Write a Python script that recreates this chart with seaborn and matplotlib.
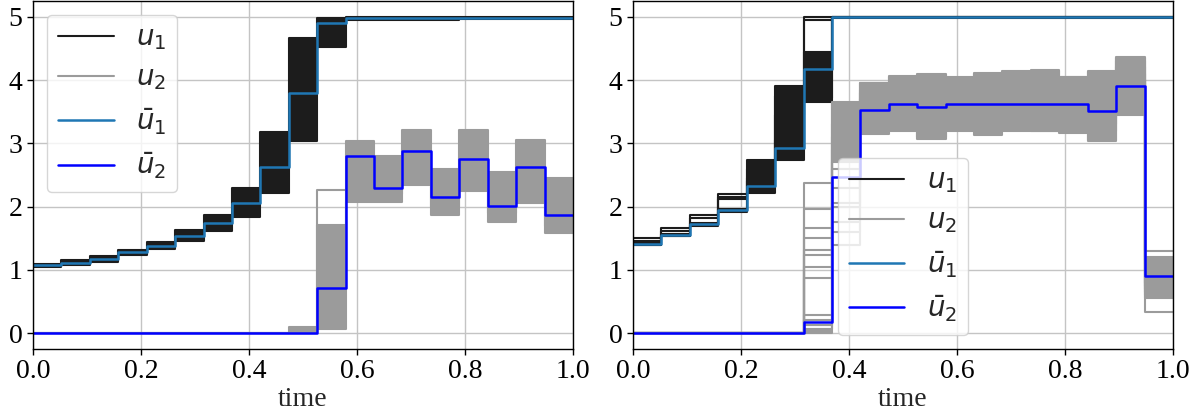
import numpy as np
import matplotlib
matplotlib.use("Agg")
import matplotlib.pyplot as plt
import seaborn as sns

# ---------------- data ----------------
n_steps = 19
t = np.arange(n_steps + 1) / n_steps          # time grid 0 .. 1
xticks = [0.0, 0.2, 0.4, 0.6, 0.8, 1.0]
yticks = [0, 1, 2, 3, 4, 5]
labels = [r"$u_1$", r"$u_2$", r"$\bar{u}_1$", r"$\bar{u}_2$"]

# left panel
u1L_mean = [1.07, 1.11, 1.18, 1.28, 1.38, 1.53, 1.74, 2.06, 2.63, 3.80, 4.90,
            4.98, 4.98, 4.98, 4.98, 4.98, 4.98, 4.98, 4.98]
u1L_lo = [1.05, 1.08, 1.13, 1.23, 1.33, 1.46, 1.61, 1.84, 2.22, 3.03, 4.53,
          4.95, 4.95, 4.95, 4.95, 4.96, 4.96, 4.96, 4.96]
u1L_hi = [1.10, 1.15, 1.22, 1.32, 1.44, 1.63, 1.87, 2.30, 3.18, 4.66, 4.98,
          5.00, 5.00, 5.00, 5.00, 5.00, 5.00, 5.00, 5.00]
u2L_mean = [0, 0, 0, 0, 0, 0, 0, 0, 0, 0, 0.72, 2.80, 2.29, 2.88, 2.15, 2.76,
            2.01, 2.63, 1.86]
u2L_lo = [0, 0, 0, 0, 0, 0, 0, 0, 0, 0.00, 0.06, 2.08, 2.08, 2.34, 1.87, 2.24,
          1.76, 2.05, 1.59]
u2L_hi = [0, 0, 0, 0, 0, 0, 0, 0, 0, 0.10, 1.71, 3.03, 2.80, 3.21, 2.60, 3.21,
          2.55, 3.06, 2.45]
u2L_members = [
    [0, 0, 0, 0, 0, 0, 0, 0, 0, 0, 2.26, 2.25, 2.20, 2.50, 2.00, 2.40, 1.90, 2.30, 1.70],
]

# right panel
u1R_mean = [1.41, 1.55, 1.72, 1.95, 2.33, 2.93, 4.18, 5.0, 5.0, 5.0, 5.0, 5.0,
            5.0, 5.0, 5.0, 5.0, 5.0, 5.0, 5.0]
u1R_lo = [1.39, 1.53, 1.69, 1.91, 2.22, 2.74, 3.66, 4.98, 4.98, 4.98, 4.98,
          4.98, 4.98, 4.98, 4.98, 4.98, 4.98, 4.98, 4.98]
u1R_hi = [1.43, 1.57, 1.74, 1.97, 2.74, 3.91, 4.45, 5.0, 5.0, 5.0, 5.0, 5.0,
          5.0, 5.0, 5.0, 5.0, 5.0, 5.0, 5.0]
u1R_members = [
    [1.51, 1.66, 1.87, 2.20, 2.60, 3.75, 5.00, 5.0, 5.0, 5.0, 5.0, 5.0, 5.0, 5.0, 5.0, 5.0, 5.0, 5.0, 5.0],
    [1.46, 1.62, 1.82, 2.15, 2.45, 3.45, 4.95, 5.0, 5.0, 5.0, 5.0, 5.0, 5.0, 5.0, 5.0, 5.0, 5.0, 5.0, 5.0],
    [1.40, 1.54, 1.71, 2.12, 2.40, 3.05, 3.72, 5.0, 5.0, 5.0, 5.0, 5.0, 5.0, 5.0, 5.0, 5.0, 5.0, 5.0, 5.0],
]
u2R_mean = [0, 0, 0, 0, 0, 0, 0.17, 2.47, 3.53, 3.62, 3.57, 3.63, 3.63, 3.63,
            3.63, 3.63, 3.51, 3.91, 0.90]
u2R_lo = [0, 0, 0, 0, 0, 0, 0.00, 2.70, 3.15, 3.20, 3.07, 3.19, 3.14, 3.19,
          3.19, 3.16, 3.03, 3.45, 0.55]
u2R_hi = [0, 0, 0, 0, 0, 0, 0.06, 3.65, 3.95, 4.06, 4.10, 4.05, 4.11, 4.15,
          4.16, 4.05, 4.15, 4.37, 1.20]
u2R_members = [
    [0, 0, 0, 0, 0, 0, 2.38, 1.40, 3.20, 3.25, 3.10, 3.22, 3.18, 3.22, 3.20, 3.20, 3.05, 3.50, 1.30],
    [0, 0, 0, 0, 0, 0, 1.97, 3.62, 3.95, 4.05, 4.08, 4.03, 4.10, 4.13, 4.15, 4.05, 4.12, 4.35, 0.33],
    [0, 0, 0, 0, 0, 0, 1.67, 1.75, 3.40, 3.90, 3.30, 3.85, 3.30, 3.90, 3.35, 3.85, 3.30, 4.20, 0.95],
    [0, 0, 0, 0, 0, 0, 1.50, 2.05, 3.80, 3.40, 3.90, 3.40, 3.95, 3.40, 3.95, 3.40, 3.90, 3.70, 0.70],
    [0, 0, 0, 0, 0, 0, 1.31, 2.30, 3.60, 3.70, 3.50, 3.60, 3.70, 3.80, 3.50, 3.70, 3.60, 3.90, 1.10],
    [0, 0, 0, 0, 0, 0, 1.23, 1.60, 3.50, 3.60, 3.80, 3.70, 3.60, 3.70, 3.80, 3.60, 3.50, 4.00, 0.80],
    [0, 0, 0, 0, 0, 0, 1.05, 2.90, 3.70, 3.50, 3.60, 3.50, 3.80, 3.60, 3.70, 3.80, 3.40, 3.60, 0.60],
    [0, 0, 0, 0, 0, 0, 0.87, 3.30, 3.30, 3.80, 3.70, 3.90, 3.50, 3.50, 3.60, 3.50, 3.70, 4.10, 1.00],
    [0, 0, 0, 0, 0, 0, 0.28, 2.60, 3.85, 3.30, 3.40, 3.30, 3.40, 3.30, 3.40, 3.30, 3.20, 3.80, 0.65],
    [0, 0, 0, 0, 0, 0, 0.21, 2.00, 3.25, 3.95, 4.00, 3.95, 4.00, 4.05, 4.05, 3.95, 4.00, 4.30, 1.15],
    [0, 0, 0, 0, 0, 0, 0.13, 3.10, 3.60, 3.75, 3.65, 3.75, 3.65, 3.75, 3.65, 3.75, 3.65, 3.95, 0.75],
]

# ---------------- style ----------------
sns.set_theme(style="ticks")
plt.rcParams["font.family"] = ["Liberation Serif", "DejaVu Serif"]
plt.rcParams["mathtext.fontset"] = "dejavusans"
plt.rcParams["axes.edgecolor"] = "black"
plt.rcParams["xtick.color"] = "black"
plt.rcParams["ytick.color"] = "black"

C_U1 = "#1c1c1c"
C_U2 = "#9b9b9b"
C_M1 = "#1f77b4"
C_M2 = "#0000ff"


def ext(v):
    v = list(v)
    return np.array(v + [v[-1]], dtype=float)


def step_line(ax, y, color, lw, label=None):
    sns.lineplot(x=t, y=ext(y), ax=ax, color=color, linewidth=lw,
                 drawstyle="steps-post", estimator=None, sort=False,
                 label=label, legend=False)


def ensemble(ax, lo, hi, members, color, label):
    ax.fill_between(t, ext(lo), ext(hi), step="post", color=color, lw=0)
    step_line(ax, lo, color, 1.5, label)
    step_line(ax, hi, color, 1.5)
    for m in members:
        step_line(ax, m, color, 1.5)


fig = plt.figure(figsize=(12.04, 4.17), dpi=100)
axL = fig.add_axes([33 / 1204, 68 / 417, 540 / 1204, 348 / 417])
axR = fig.add_axes([633 / 1204, 68 / 417, 540 / 1204, 348 / 417])

panels = [
    (axL, u1L_lo, u1L_hi, [], u1L_mean, u2L_lo, u2L_hi, u2L_members, u2L_mean, "upper left"),
    (axR, u1R_lo, u1R_hi, u1R_members, u1R_mean, u2R_lo, u2R_hi, u2R_members, u2R_mean, "lower center"),
]

for ax, a_lo, a_hi, a_m, a_mean, b_lo, b_hi, b_m, b_mean, loc in panels:
    ensemble(ax, a_lo, a_hi, a_m, C_U1, labels[0])
    ensemble(ax, b_lo, b_hi, b_m, C_U2, labels[1])
    step_line(ax, a_mean, C_M1, 1.8, labels[2])
    step_line(ax, b_mean, C_M2, 1.8, labels[3])

    ax.set_xlim(0, 1)
    ax.set_ylim(-0.25, 5.25)
    ax.set_xticks(xticks)
    ax.set_yticks(yticks)
    ax.grid(True, color="#c4c4c4", linewidth=1.0)
    ax.set_axisbelow(True)
    ax.tick_params(labelsize=20, length=4, width=1, direction="out")
    ax.set_xlabel("time", fontsize=20, labelpad=2)
    ax.set_ylabel("")
    for s in ax.spines.values():
        s.set_color("black")
        s.set_linewidth(1.0)
    handles, labs = ax.get_legend_handles_labels()
    order = [labs.index(l) for l in labels]
    leg = ax.legend([handles[i] for i in order], [labs[i] for i in order],
                    loc=loc, fontsize=20, framealpha=0.8, fancybox=True)

fig.savefig("out.png", dpi=100)
